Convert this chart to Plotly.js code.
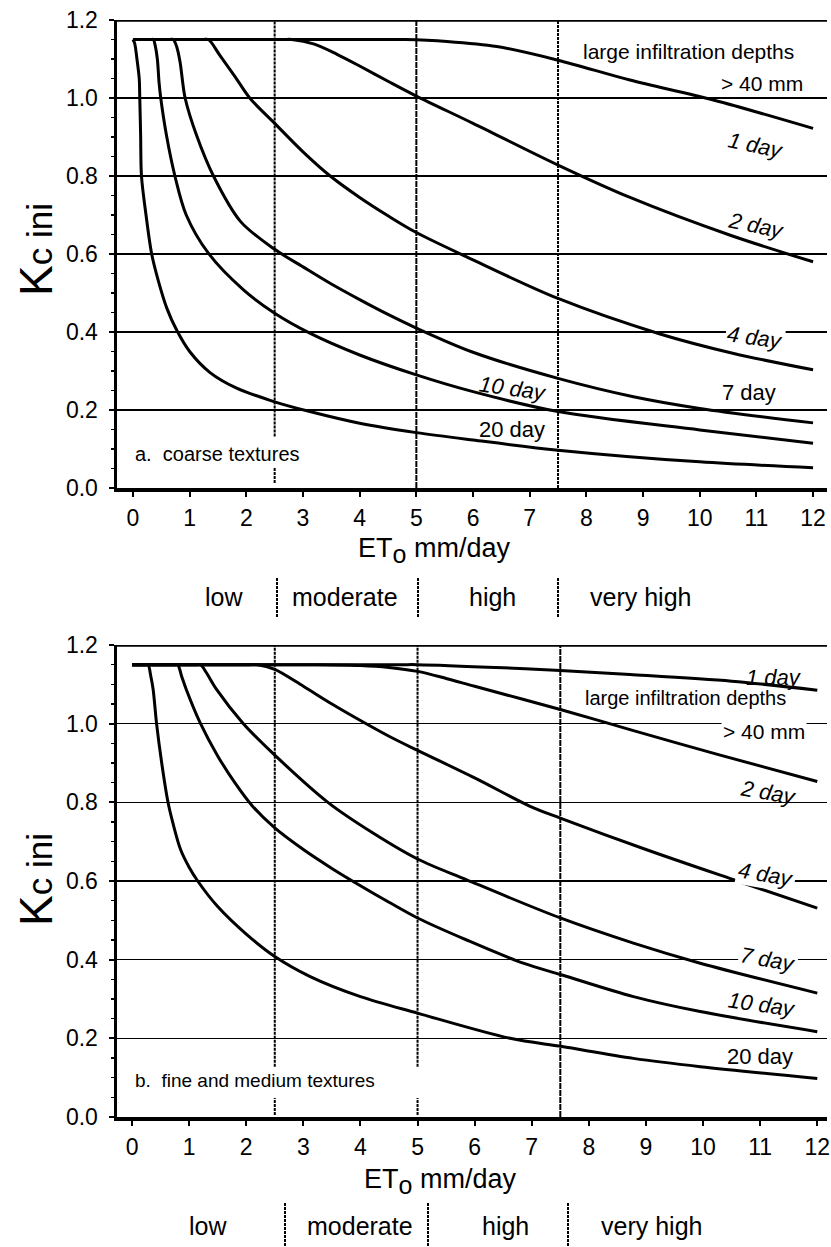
<!DOCTYPE html>
<html>
<head>
<meta charset="utf-8">
<script src="https://cdn.plot.ly/plotly-3.0.1.min.js"></script>
<style>html,body{margin:0;padding:0;background:#fff;}#chart{width:831px;height:1247px;}</style>
</head>
<body>
<div id="chart"></div>
<script>
// ---------- DATA ----------
// a. coarse textures: Kc ini vs ETo (mm/day) for wetting intervals
var coarse1dX  = [0, 4.5, 4.8, 5.54, 6.42, 7.5, 8.77, 10.24, 12.0];
var coarse1dY  = [1.15, 1.15, 1.15, 1.145, 1.132, 1.097, 1.046, 0.995, 0.922];
var coarse2dX  = [0, 2.65, 2.8, 3.2, 3.6, 4.0, 4.5, 5.0, 6.0, 7.5, 8.77, 10.54, 12.0];
var coarse2dY  = [1.15, 1.15, 1.15, 1.138, 1.112, 1.082, 1.043, 1.005, 0.935, 0.828, 0.745, 0.648, 0.58];
var coarse4dX  = [0, 1.23, 1.33, 1.53, 1.8, 2.06, 2.5, 3.0, 3.48, 4.0, 4.5, 5.0, 6.0, 7.5, 9.3, 10.6, 12.0];
var coarse4dY  = [1.15, 1.15, 1.15, 1.11, 1.055, 1.0, 0.935, 0.862, 0.8, 0.745, 0.698, 0.655, 0.585, 0.486, 0.395, 0.345, 0.303];
var coarse7dX  = [0, 0.65, 0.71, 0.77, 0.83, 0.92, 1.12, 1.42, 1.9, 2.5, 3.0, 3.5, 4.0, 4.5, 5.0, 6.0, 7.5, 8.83, 10.0, 12.0];
var coarse7dY  = [1.15, 1.15, 1.15, 1.132, 1.093, 1.0, 0.905, 0.8, 0.683, 0.612, 0.567, 0.523, 0.483, 0.445, 0.41, 0.348, 0.281, 0.234, 0.204, 0.167];
var coarse10dX = [0, 0.31, 0.36, 0.39, 0.43, 0.46, 0.49, 0.59, 0.74, 0.94, 1.33, 1.95, 2.5, 3.12, 4.0, 5.0, 6.0, 7.5, 10.0, 12.0];
var coarse10dY = [1.15, 1.15, 1.15, 1.136, 1.10, 1.04, 1.0, 0.905, 0.8, 0.7, 0.602, 0.508, 0.448, 0.397, 0.341, 0.29, 0.247, 0.196, 0.149, 0.115];
var coarse20dX = [0, 0.03, 0.07, 0.11, 0.12, 0.135, 0.15, 0.23, 0.33, 0.45, 0.6, 0.77, 1.0, 1.36, 1.83, 2.5, 3.12, 4.0, 5.0, 6.0, 7.5, 10.0, 12.0];
var coarse20dY = [1.15, 1.14, 1.10, 1.05, 1.0, 0.905, 0.8, 0.7, 0.6, 0.53, 0.46, 0.405, 0.35, 0.296, 0.256, 0.221, 0.196, 0.166, 0.142, 0.123, 0.097, 0.067, 0.052];

// b. fine and medium textures
var fine1dX  = [0, 4.7, 5.0, 6.5, 7.5, 8.72, 10.5, 12.0];
var fine1dY  = [1.15, 1.15, 1.15, 1.142, 1.135, 1.125, 1.108, 1.085];
var fine2dX  = [0, 3.0, 3.2, 4.0, 4.5, 5.0, 5.5, 6.0, 7.5, 8.72, 10.3, 12.0];
var fine2dY  = [1.15, 1.15, 1.15, 1.148, 1.143, 1.133, 1.115, 1.095, 1.036, 0.985, 0.92, 0.853];
var fine4dX  = [0, 2.05, 2.2, 2.5, 3.0, 3.5, 4.0, 4.5, 5.0, 6.0, 6.97, 7.5, 9.0, 10.6, 12.0];
var fine4dY  = [1.15, 1.15, 1.15, 1.138, 1.095, 1.05, 1.008, 0.968, 0.932, 0.862, 0.79, 0.76, 0.68, 0.6, 0.531];
var fine7dX  = [0, 1.12, 1.2, 1.3, 1.48, 1.95, 2.5, 3.43, 4.22, 5.0, 5.86, 7.5, 8.78, 9.95, 12.0];
var fine7dY  = [1.15, 1.15, 1.15, 1.13, 1.087, 1.0, 0.92, 0.8, 0.722, 0.656, 0.603, 0.506, 0.442, 0.391, 0.315];
var fine10dX = [0, 0.74, 0.8, 0.87, 0.95, 1.2, 1.5, 1.8, 2.1, 2.5, 3.0, 3.5, 4.0, 4.5, 5.0, 5.86, 6.85, 7.53, 8.78, 9.95, 12.0];
var fine10dY = [1.15, 1.15, 1.15, 1.12, 1.087, 1.0, 0.918, 0.85, 0.792, 0.735, 0.68, 0.632, 0.588, 0.546, 0.506, 0.45, 0.391, 0.361, 0.306, 0.268, 0.217];
var fine20dX = [0, 0.23, 0.28, 0.33, 0.37, 0.43, 0.52, 0.63, 0.72, 0.85, 1.0, 1.15, 1.5, 2.0, 2.5, 3.12, 4.0, 5.0, 6.62, 7.53, 8.78, 9.95, 12.0];
var fine20dY = [1.15, 1.15, 1.15, 1.12, 1.087, 1.0, 0.9, 0.8, 0.745, 0.68, 0.635, 0.6, 0.535, 0.465, 0.408, 0.357, 0.306, 0.264, 0.2, 0.179, 0.149, 0.128, 0.098];

// ETo class boundaries and labels
var classBounds = [2.5, 5, 7.5];
var classLabels = ['low', 'moderate', 'high', 'very high'];
var xTickVals = [0,1,2,3,4,5,6,7,8,9,10,11,12];
var yTickVals = [0.0, 0.2, 0.4, 0.6, 0.8, 1.0, 1.2];

// ---------- FIGURE ----------
var FONT = 'Liberation Sans, Arial, Helvetica, sans-serif';
var W = 831, H = 1247;
function px(x){ return x / W; }
function py(y){ return 1 - y / H; }

function curve(x, y, xa, ya){
  return {x:x, y:y, xaxis:xa, yaxis:ya, mode:'lines', hoverinfo:'skip', showlegend:false,
          line:{color:'#000', width:3, shape:'spline', smoothing:0.9}};
}

var traces = [
  curve(coarse1dX, coarse1dY, 'x', 'y'),
  curve(coarse2dX, coarse2dY, 'x', 'y'),
  curve(coarse4dX, coarse4dY, 'x', 'y'),
  curve(coarse7dX, coarse7dY, 'x', 'y'),
  curve(coarse10dX, coarse10dY, 'x', 'y'),
  curve(coarse20dX, coarse20dY, 'x', 'y'),
  curve(fine1dX, fine1dY, 'x2', 'y2'),
  curve(fine2dX, fine2dY, 'x2', 'y2'),
  curve(fine4dX, fine4dY, 'x2', 'y2'),
  curve(fine7dX, fine7dY, 'x2', 'y2'),
  curve(fine10dX, fine10dY, 'x2', 'y2'),
  curve(fine20dX, fine20dY, 'x2', 'y2')
];

function xAxis(range, anchor, domain){
  return {range:range, domain:domain, anchor:anchor, tickvals:xTickVals,
          ticks:'outside', ticklen:5, tickwidth:2, tickcolor:'#000',
          showline:true, linewidth:3.5, linecolor:'#000',
          showgrid:false, zeroline:false, ticklabelstandoff:2,
          tickfont:{family:FONT, size:23, color:'#000'}, fixedrange:true};
}
function yAxis(domain, anchor){
  return {range:[0, 1.2], domain:domain, anchor:anchor, tickvals:yTickVals, tickformat:'.1f',
          ticks:'outside', ticklen:5, tickwidth:2, tickcolor:'#000',
          minor:{dtick:0.05, ticks:'outside', ticklen:3, tickwidth:1.5, tickcolor:'#000', showgrid:false},
          showline:true, linewidth:3.5, linecolor:'#000',
          showgrid:true, gridcolor:'#000', gridwidth:1.2, zeroline:false, ticklabelstandoff:6,
          tickfont:{family:FONT, size:23, color:'#000'}, fixedrange:true};
}

var shapes = [];
// frame top line at 1.2
shapes.push({type:'line', xref:'x domain', yref:'y', x0:0, x1:1, y0:1.2, y1:1.2, line:{color:'#000', width:3.5}});
shapes.push({type:'line', xref:'x2 domain', yref:'y2', x0:0, x1:1, y0:1.2, y1:1.2, line:{color:'#000', width:3.5}});

// class boundary lines
function vline(xr, yr, x, y0, y1, dash, w){
  shapes.push({type:'line', xref:xr, yref:yr, x0:x, x1:x, y0:y0, y1:y1, line:{color:'#000', width:w, dash:dash}});
}
// top panel
vline('x','y', classBounds[0], 0.132, 1.2, '3px,1px', 2);
vline('x','y', classBounds[0], 0.013, 0.051, '3px,1px', 2);
vline('x','y', classBounds[1], 0, 1.2, '6px,1px', 2);
vline('x','y', classBounds[2], 0, 1.2, '3px,1px', 2);
// bottom panel
vline('x2','y2', classBounds[0], 0.128, 1.2, '3px,1px', 2);
vline('x2','y2', classBounds[0], 0.005, 0.048, '3px,1px', 2);
vline('x2','y2', classBounds[1], 0.128, 1.2, '3px,1px', 2);
vline('x2','y2', classBounds[1], 0.005, 0.048, '3px,1px', 2);
vline('x2','y2', classBounds[2], 0, 1.2, '6px,1px', 2);

// separators in the class rows (paper coords)
var sepTopPx = [277, 418, 558], sepBotPx = [285, 428, 568];
sepTopPx.forEach(function(p){ shapes.push({type:'line', xref:'paper', yref:'paper', x0:px(p), x1:px(p), y0:py(578), y1:py(617), line:{color:'#000', width:2, dash:'3px,1px'}}); });
sepBotPx.forEach(function(p){ shapes.push({type:'line', xref:'paper', yref:'paper', x0:px(p), x1:px(p), y0:py(1203), y1:py(1247), line:{color:'#000', width:2, dash:'3px,1px'}}); });

var ann = [];
function note(text, xr, yr, x, y, size, opts){
  var a = {text:text, xref:xr, yref:yr, x:x, y:y, showarrow:false,
           font:{family:FONT, size:size, color:'#000'}, xanchor:'center', yanchor:'middle'};
  for (var k in opts) a[k] = opts[k];
  ann.push(a);
}
// class row labels
var labTopPx = [224, 345, 492, 640], labBotPx = [208, 360, 505, 651];
classLabels.forEach(function(t, i){
  note(t, 'paper', 'paper', px(labTopPx[i]), py(597), 25, {});
  note(t, 'paper', 'paper', px(labBotPx[i]), py(1226), 25, {});
});
// axis titles
var kTitle = 'K<span style="font-size:35px">c ini</span>';
note(kTitle, 'paper', 'paper', px(36), py(250), 46, {textangle:-90});
note(kTitle, 'paper', 'paper', px(36), py(880), 46, {textangle:-90});
var eTitle = 'ET<sub><span style="font-size:25px">o</span></sub> mm/day';
note(eTitle, 'paper', 'paper', px(434), py(550), 27, {});
note(eTitle, 'paper', 'paper', px(440), py(1181), 27, {});

// panel a labels
note('large infiltration depths', 'x', 'y', 9.81, 1.118, 21, {});
note('&gt; 40 mm', 'x', 'y', 11.1, 1.038, 21, {});
note('<i>1 day</i>', 'x', 'y', 11.0, 0.879, 22, {textangle:12});
note('<i>2 day</i>', 'x', 'y', 11.0, 0.674, 22, {textangle:12});
note('<i>4 day</i>', 'x', 'y', 10.97, 0.385, 22, {textangle:8, bgcolor:'#fff'});
note('7 day', 'x', 'y', 10.87, 0.246, 22, {});
note('<i>10 day</i>', 'x', 'y', 6.71, 0.254, 22, {textangle:8});
note('20 day', 'x', 'y', 6.69, 0.149, 22, {});
note('a.  coarse textures', 'x', 'y', 0.0, 0.087, 20, {xanchor:'left'});

// panel b labels
note('<i>1 day</i>', 'x2', 'y2', 11.24, 1.117, 22, {});
note('large infiltration depths', 'x2', 'y2', 9.70, 1.066, 20, {});
note('&gt; 40 mm', 'x2', 'y2', 11.07, 0.98, 21, {bgcolor:'#fff'});
note('<i>2 day</i>', 'x2', 'y2', 11.14, 0.824, 22, {textangle:10});
note('<i>4 day</i>', 'x2', 'y2', 11.1, 0.616, 22, {textangle:10, bgcolor:'#fff'});
note('<i>7 day</i>', 'x2', 'y2', 11.14, 0.40, 22, {textangle:10, bgcolor:'#fff'});
note('<i>10 day</i>', 'x2', 'y2', 11.03, 0.285, 22, {textangle:8});
note('20 day', 'x2', 'y2', 11.0, 0.153, 22, {});
note('b.  fine and medium textures', 'x2', 'y2', 0.02, 0.092, 19, {xanchor:'left'});

var layout = {
  width:W, height:H, margin:{l:0, r:0, t:0, b:0},
  paper_bgcolor:'#fff', plot_bgcolor:'#fff', showlegend:false,
  font:{family:FONT, color:'#000'},
  xaxis: xAxis([-0.282, 12.246], 'y', [px(117), px(827)]),
  yaxis: yAxis([py(488), py(20)], 'x'),
  xaxis2: xAxis([-0.263, 12.17], 'y2', [px(117), px(827)]),
  yaxis2: yAxis([py(1117), py(645)], 'x2'),
  shapes: shapes,
  annotations: ann
};

Plotly.newPlot('chart', traces, layout, {staticPlot:true, displayModeBar:false});
</script>
</body>
</html>
